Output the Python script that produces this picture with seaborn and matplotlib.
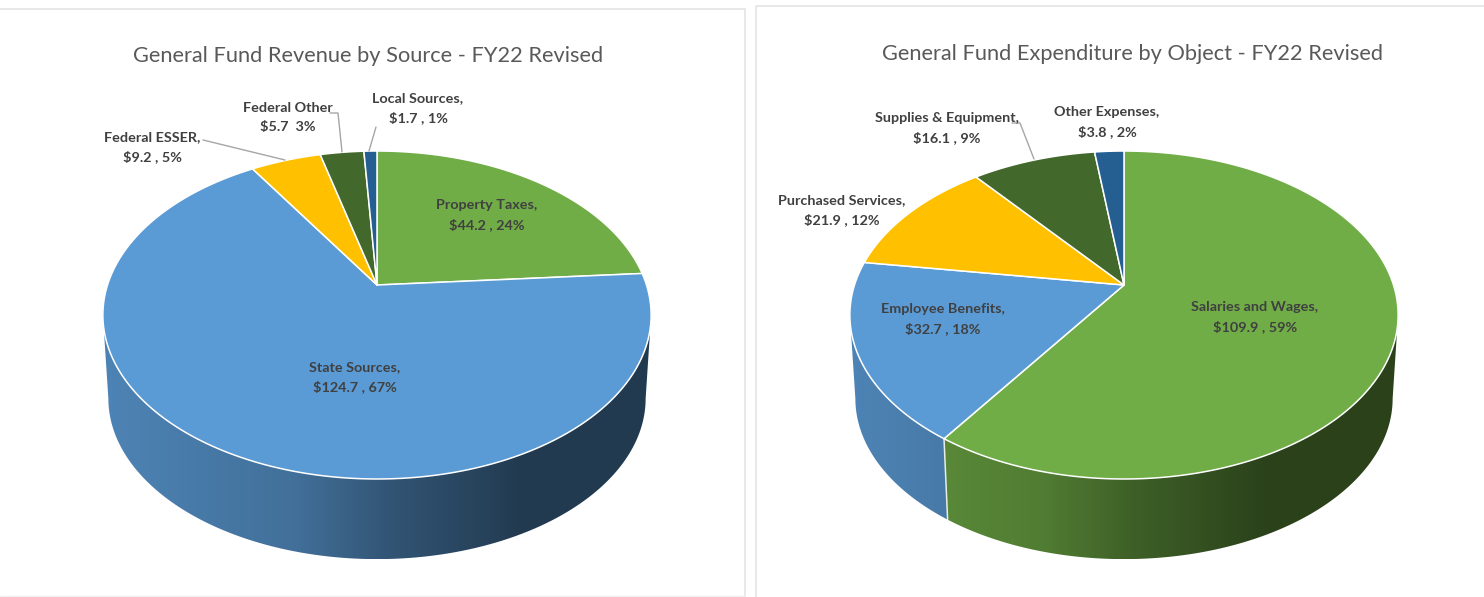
import numpy as np
import matplotlib
matplotlib.use('Agg')
import matplotlib.pyplot as plt
from matplotlib.patches import Polygon
import seaborn as sns

# Data #
revenue_names = ['Property Taxes', 'State Sources', 'Federal ESSER', 'Federal Other', 'Local Sources']
revenue_values = [44.2, 124.7, 9.2, 5.7, 1.7]
revenue_labels = ['Property Taxes,\n$44.2 , 24%', 'State Sources,\n$124.7 , 67%', 'Federal ESSER,\n$9.2 , 5%',
                  'Federal Other\n$5.7  3%', 'Local Sources,\n$1.7 , 1%']

expense_names = ['Salaries and Wages', 'Employee Benefits', 'Purchased Services', 'Supplies & Equipment', 'Other Expenses']
expense_values = [109.9, 32.7, 21.9, 16.1, 3.8]
expense_labels = ['Salaries and Wages,\n$109.9 , 59%', 'Employee Benefits,\n$32.7 , 18%', 'Purchased Services,\n$21.9 , 12%',
                  'Supplies & Equipment,\n$16.1 , 9%', 'Other Expenses,\n$3.8 , 2%']

revenue_title = 'General Fund Revenue by Source - FY22 Revised'
expense_title = 'General Fund Expenditure by Object - FY22 Revised'

# Layout, in image pixels #
revenue_label_pos = [(487, 215), (355, 377), (152, 147), (288, 117), (418, 108)]
expense_label_pos = [(1255, 317), (943, 319), (842, 210), (947, 128), (1107, 122)]
revenue_leaders = [[(203, 140), (285, 160)], [(330, 113), (338, 113), (342, 152)], [(376, 127), (369, 151)]]
expense_leaders = [[(1012, 123), (1020, 123), (1034, 159)]]

sns.set_theme(style='white')
plt.rcParams['font.family'] = ['Lato', 'DejaVu Sans']
palette = sns.color_palette(['#70AD47', '#5B9BD5', '#FFC000', '#43682B', '#255E91'])

# perspective of the tilted disc
K = 0.183
B = 158.5
A = 269.5
DEPTH = 84
LOWER_SCALE = 0.98
APEX_Y = 285


def project(theta, cx, lower=False):
    u, v = np.sin(theta), np.cos(theta)
    w = 1 + K * v
    x, y = A * u / w, B * v / w
    if lower:
        return cx + LOWER_SCALE * x, APEX_Y + DEPTH - LOWER_SCALE * y
    return cx + x, APEX_Y - y


def shade(x, cx):
    frac = (x - (cx - 273)) / 546
    return np.interp(frac, [0, 0.35, 0.52, 0.76, 1], [0.85, 0.72, 0.55, 0.38, 0.38])


def draw_pie(ax, values, cx):
    edges = 2 * np.pi * np.concatenate([[0], np.cumsum(values)]) / np.sum(values)
    tangent_r = np.pi - np.arcsin(np.sqrt(1 - K ** 2))
    tangent_l = 2 * np.pi - tangent_r

    for i in range(len(values)):
        # side wall, only the front part of the rim
        lo, hi = max(edges[i], tangent_r), min(edges[i + 1], tangent_l)
        if hi > lo:
            t = np.linspace(lo, hi, 150)
            xt, yt = project(t, cx)
            xb, yb = project(t[::-1], cx, lower=True)
            pts = np.column_stack([np.r_[xt, xb], np.r_[yt, yb]])
            xs = np.linspace(pts[:, 0].min(), pts[:, 0].max(), 300)
            rgb = np.outer(shade(xs, cx), palette[i])[None, :, :]
            im = ax.imshow(rgb, extent=(xs[0], xs[-1], pts[:, 1].max(), pts[:, 1].min()),
                           aspect='auto', interpolation='bilinear', zorder=1)
            outline = Polygon(pts, closed=True, facecolor='none', edgecolor='none', transform=ax.transData)
            ax.add_patch(outline)
            im.set_clip_path(outline)
            if lo > tangent_r:
                x0, y0 = project(lo, cx)
                x1, y1 = project(lo, cx, lower=True)
                ax.plot([x0, x1], [y0, y1], color='#E8ECE6', lw=1.1, zorder=2)

    for i in range(len(values)):
        t = np.linspace(edges[i], edges[i + 1], 200)
        x, y = project(t, cx)
        ax.fill(np.r_[cx, x], np.r_[APEX_Y, y], facecolor=palette[i], edgecolor='white', lw=1.1,
                joinstyle='round', zorder=3)


fig = plt.figure(figsize=(14.84, 5.97), dpi=100)
ax = fig.add_axes([0, 0, 1, 1])

draw_pie(ax, revenue_values, 377)
draw_pie(ax, expense_values, 1124)

# chart area borders
ax.plot([0, 745, 745], [9, 9, 597], color='#E6E6E6', lw=1.3, zorder=0)
ax.plot([0, 745], [596, 596], color='#F0F0F0', lw=1, zorder=0)
ax.plot([756, 756, 1484], [597, 6, 6], color='#E6E6E6', lw=1.3, zorder=0)

ax.text(368.5, 56, revenue_title, ha='center', va='center', fontsize=15.7, color='#595959', zorder=5)
ax.text(1133, 54, expense_title, ha='center', va='center', fontsize=15.7, color='#595959', zorder=5)

for labels, positions in [(revenue_labels, revenue_label_pos), (expense_labels, expense_label_pos)]:
    for label, (x, y) in zip(labels, positions):
        ax.text(x, y, label, ha='center', va='center', fontsize=10.4, fontweight='bold',
                color='#404040', linespacing=1.7, zorder=5)

for leader in revenue_leaders + expense_leaders:
    ax.plot(*zip(*leader), color='#A6A6A6', lw=1, zorder=4)

ax.set_xlim(0, 1484)
ax.set_ylim(597, 0)
ax.axis('off')

fig.savefig('out.png', dpi=100, facecolor='white')
